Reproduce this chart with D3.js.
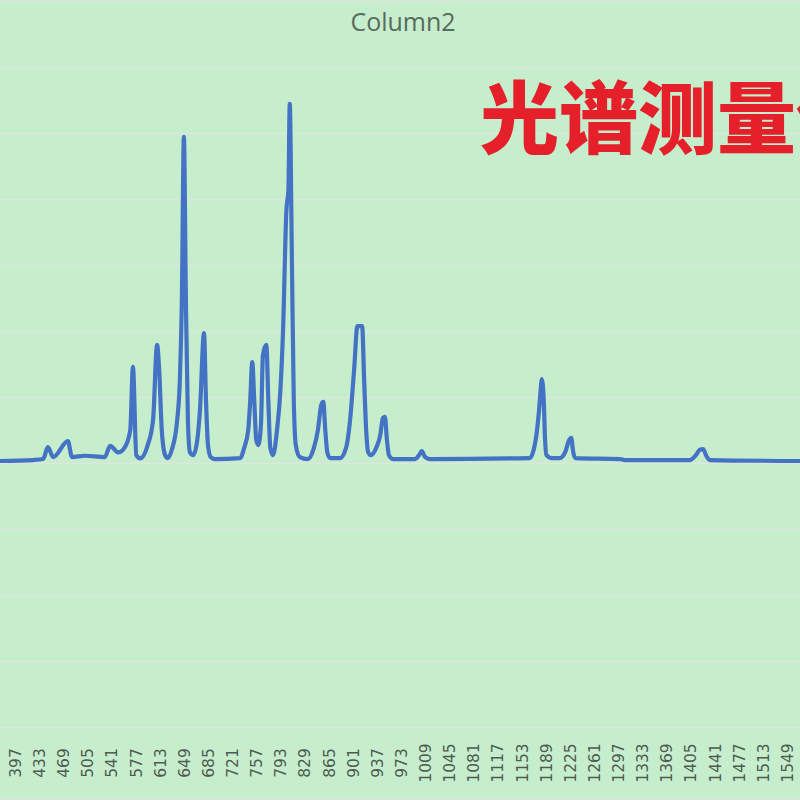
<!DOCTYPE html>
<html>
<head>
<meta charset="utf-8">
<script src="https://cdn.jsdelivr.net/npm/d3@7"></script>
<style>
  html, body { margin: 0; padding: 0; background: #c6eecc; }
  svg { display: block; }
</style>
</head>
<body>
<svg id="chart" width="800" height="800"></svg>
<script>
// ---- data ----
const title = "Column2";
const overlayText = "光谱测量仪";
const tickLabels = [397,433,469,505,541,577,613,649,685,721,757,793,829,865,901,937,973,1009,1045,1081,1117,1153,1189,1225,1261,1297,1333,1369,1405,1441,1477,1513,1549];
const gridValues = [-4000,-3000,-2000,-1000,0,1000,2000,3000,4000,5000,6000,7000];
const wavelength = [374,424,439,446,454,476,482,501,531,539,551,561,569,573,578,584,595,603,609,612,616,621,625,631,639,643,646,649,652,655,658,663,669,673,679,682,685,689,695,733,739,745,748,751,754,757,760,764,767,772,775,778,782,788,793,797,802,805,807,810,813,816,822,834,843,849,854,857,860,863,867,882,891,897,903,908,915,918,921,924,928,936,942,946,949,952,955,961,994,1000,1004,1009,1016,1165,1171,1176,1179,1182,1183,1186,1188,1190,1198,1210,1218,1224,1227,1230,1233,1300,1307,1404,1413,1419,1424,1428,1434,1568];
const intensity = [30,45,60,240,90,330,90,110,90,260,160,240,500,1455,120,70,270,650,1790,1440,500,120,75,200,650,1260,2470,4940,2470,650,165,120,350,800,1970,950,270,90,60,75,230,500,950,1530,950,350,270,580,1640,1790,950,230,120,500,1100,2015,3830,4140,5440,3230,950,270,90,60,230,500,880,925,500,165,75,75,230,650,1410,2075,2075,1260,500,165,120,230,420,680,700,350,120,60,60,120,180,90,60,75,200,500,800,1180,1270,950,350,120,75,75,165,350,380,165,75,60,45,45,120,200,210,120,45,30];

// ---- layout ----
const W = 800, H = 800;
const svg = d3.select("#chart");

const x = d3.scaleLinear().domain([374.6, 1568.4]).range([0, W]);
const y = d3.scaleLinear().domain([-4000, 7000]).range([727, 1]);

svg.append("rect").attr("width", W).attr("height", H).attr("fill", "#c6eecc");

// gridlines
svg.append("g").selectAll("line").data(gridValues).join("line")
  .attr("x1", 0).attr("x2", W)
  .attr("y1", d => Math.round(y(d)) + 0.5).attr("y2", d => Math.round(y(d)) + 0.5)
  .attr("stroke", "#dde8dd").attr("stroke-width", 1.3);
// chart bottom border
svg.append("line").attr("x1", 0).attr("x2", W).attr("y1", 798.5).attr("y2", 798.5)
  .attr("stroke", "#dde8dd").attr("stroke-width", 1.3);

// x axis labels
const xAxis = d3.axisBottom(x).tickValues(tickLabels).tickSize(0).tickFormat(d3.format("d"));
const gx = svg.append("g").attr("transform", "translate(0,727)").call(xAxis);
gx.select(".domain").remove();
gx.selectAll(".tick text")
  .attr("font-family", "DejaVu Sans, sans-serif")
  .attr("font-size", 15.5)
  .attr("fill", "#4f5a53")
  .attr("text-anchor", "middle")
  .attr("dy", "0.35em")
  .attr("transform", "translate(0,36) rotate(-90)")
  .attr("x", 0).attr("y", 0);

// series line
const pts = wavelength.map((w, i) => [w, intensity[i]]);
const line = d3.line().x(d => x(d[0])).y(d => y(d[1])).curve(d3.curveMonotoneX);
svg.append("path").datum(pts)
  .attr("d", line)
  .attr("fill", "none")
  .attr("stroke", "#4472c4")
  .attr("stroke-width", 4.2)
  .attr("stroke-linejoin", "round")
  .attr("stroke-linecap", "round");

// title
svg.append("text").attr("x", 403).attr("y", 31)
  .attr("text-anchor", "middle")
  .attr("font-family", "Open Sans, sans-serif")
  .attr("font-size", 25)
  .attr("fill", "#5a6a5e")
  .text(title);

// red overlay text (cut off by the right edge, as in the reference)
svg.append("text").attr("x", 480).attr("y", 148)
  .attr("font-family", "Noto Sans CJK SC, sans-serif")
  .attr("font-weight", 900)
  .attr("font-size", 79)
  .attr("fill", "#e5202a")
  .text(overlayText);
</script>
</body>
</html>
